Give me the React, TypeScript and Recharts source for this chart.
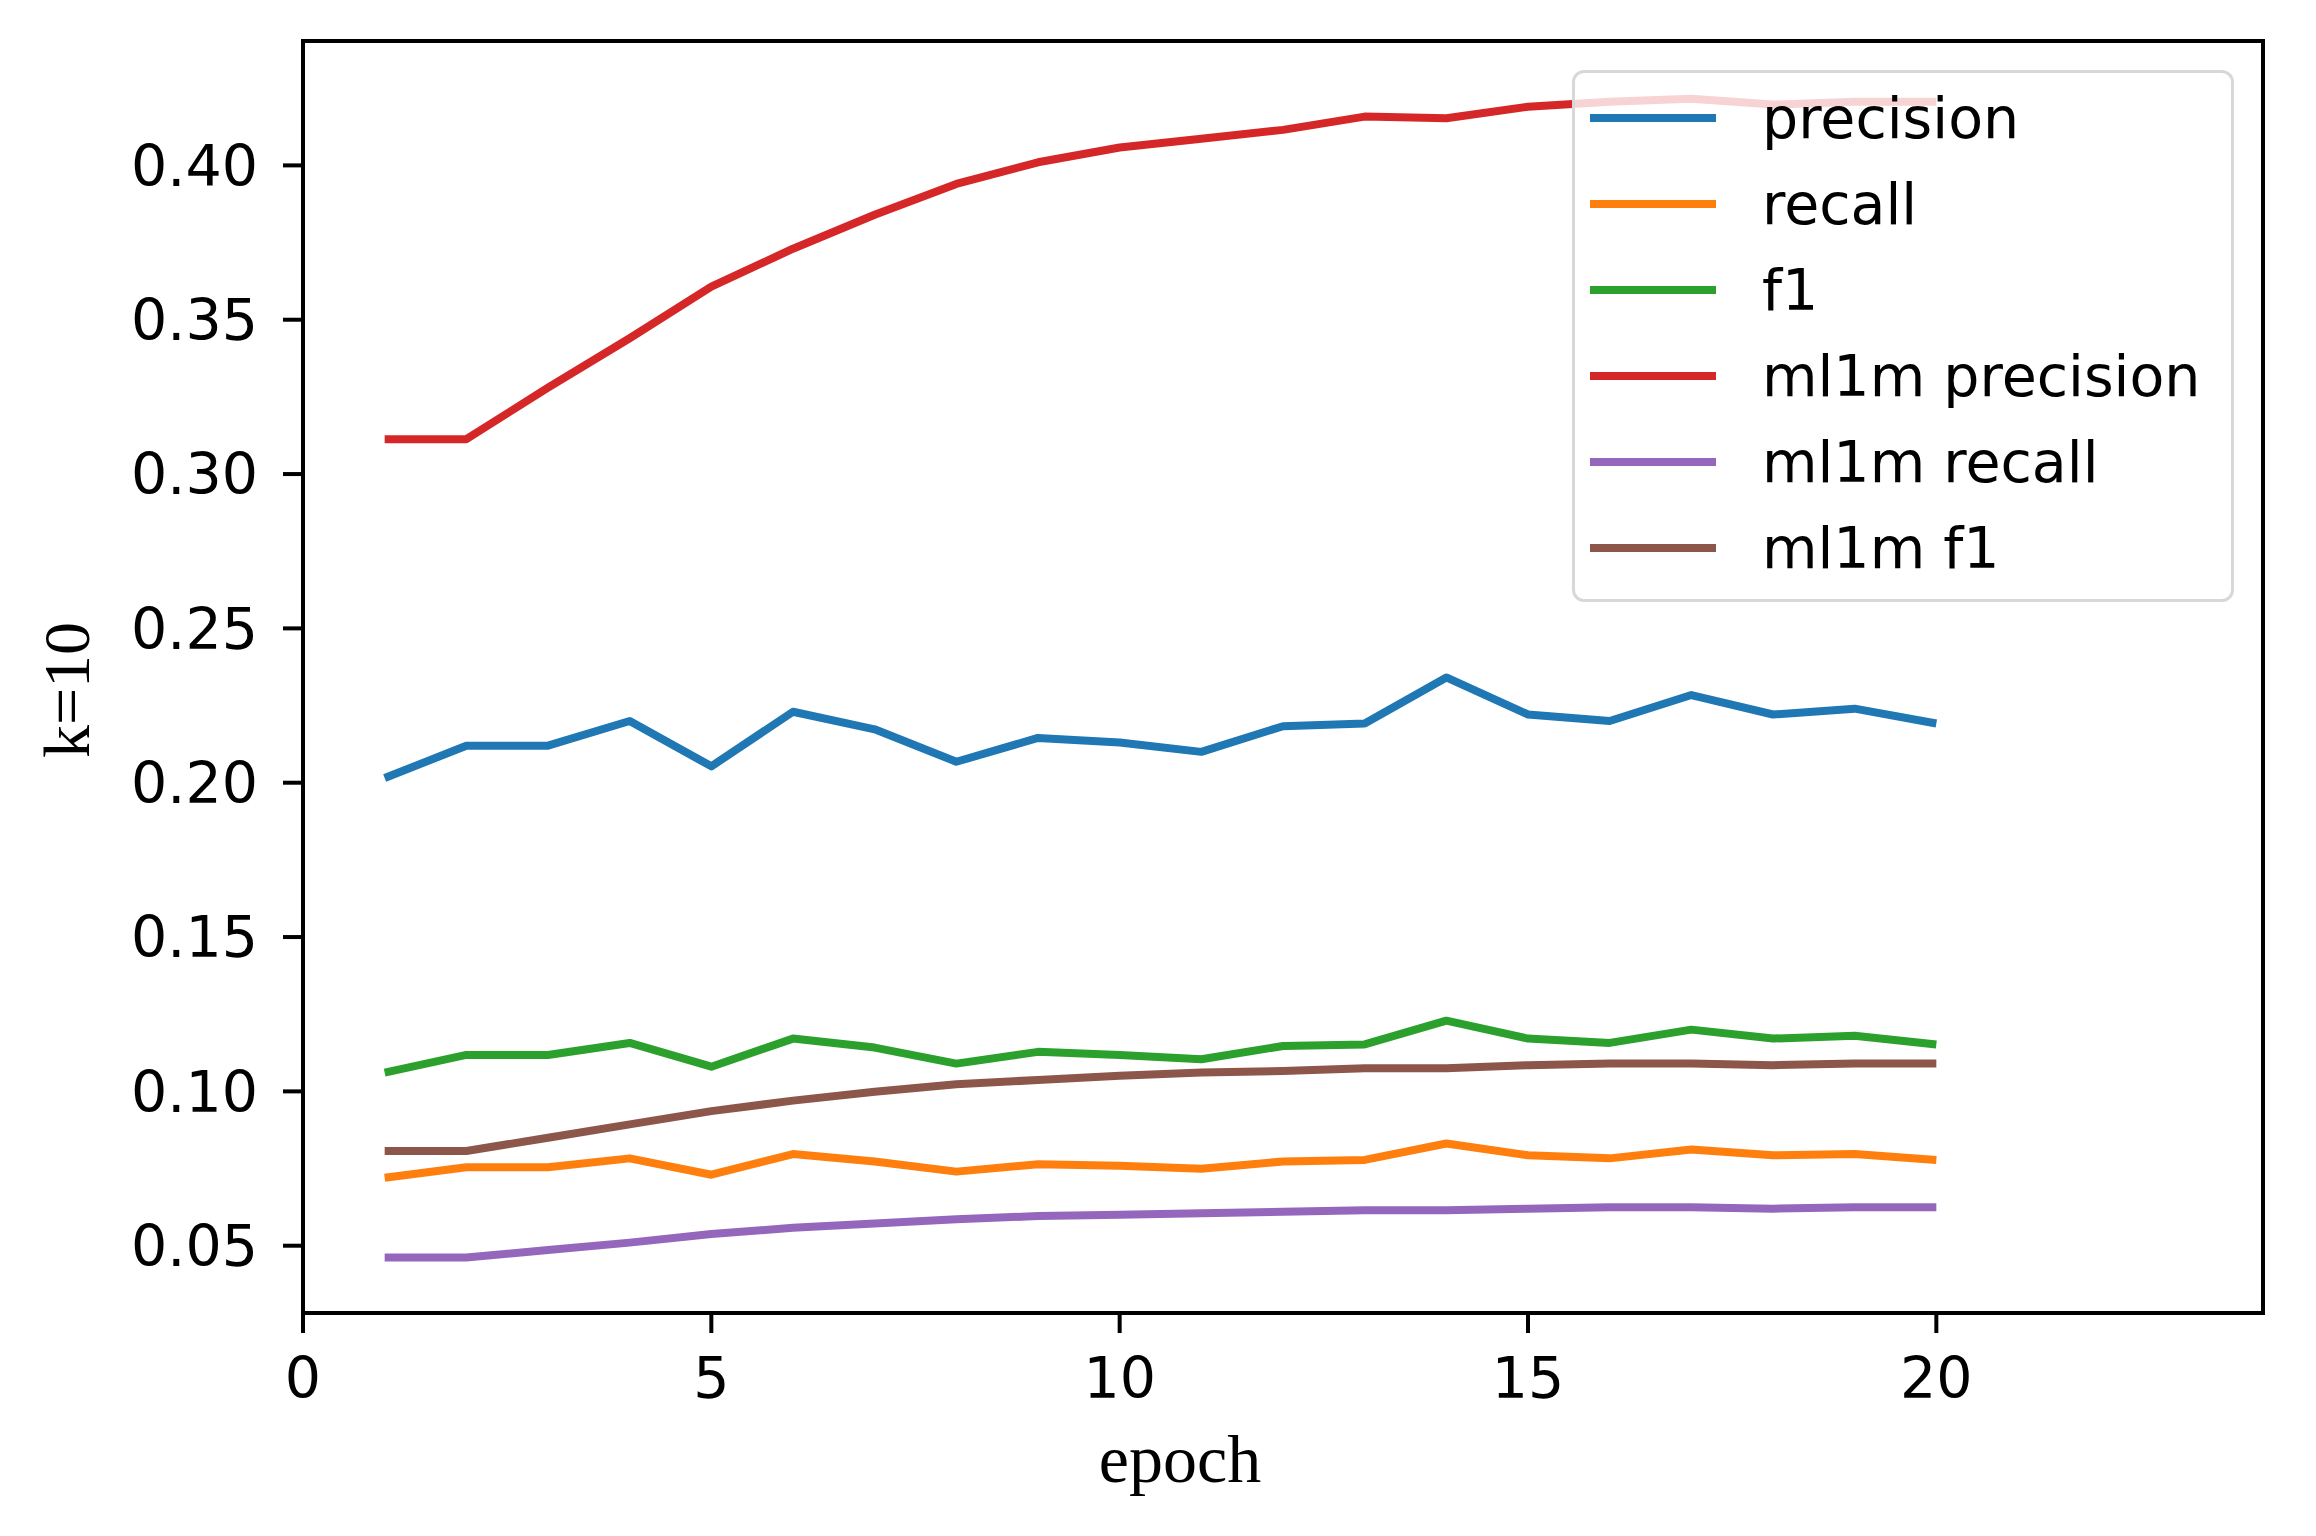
import { LineChart, Line, XAxis, YAxis, Legend, ReferenceArea } from "recharts";

const epochs = [1, 2, 3, 4, 5, 6, 7, 8, 9, 10, 11, 12, 13, 14, 15, 16, 17, 18, 19, 20];

const precision = [0.2015, 0.212, 0.212, 0.22, 0.2053, 0.223, 0.2173, 0.2068, 0.2145, 0.213, 0.21, 0.2183, 0.2192, 0.2341, 0.2221, 0.22, 0.2284, 0.2221, 0.224, 0.2192];
const recall = [0.072, 0.0754, 0.0754, 0.0783, 0.073, 0.0797, 0.0773, 0.074, 0.0764, 0.0759, 0.0749, 0.0773, 0.0778, 0.0831, 0.0793, 0.0783, 0.0812, 0.0793, 0.0797, 0.0778];
const f1 = [0.1061, 0.1118, 0.1118, 0.1157, 0.108, 0.1171, 0.1142, 0.109, 0.1128, 0.1118, 0.1104, 0.1147, 0.1152, 0.1229, 0.1171, 0.1157, 0.12, 0.1171, 0.118, 0.1152];
const ml1mPrecision = [0.3113, 0.3113, 0.328, 0.344, 0.3607, 0.373, 0.384, 0.394, 0.401, 0.4058, 0.4086, 0.4115, 0.4158, 0.4153, 0.419, 0.4206, 0.4216, 0.4197, 0.4206, 0.4206];
const ml1mRecall = [0.0462, 0.0462, 0.0486, 0.051, 0.0538, 0.0558, 0.0572, 0.0586, 0.0596, 0.06, 0.0605, 0.061, 0.0615, 0.0615, 0.062, 0.0625, 0.0625, 0.062, 0.0625, 0.0625];
const ml1mF1 = [0.0807, 0.0807, 0.085, 0.0893, 0.0936, 0.097, 0.0999, 0.1023, 0.1037, 0.1051, 0.1061, 0.1066, 0.1075, 0.1075, 0.1085, 0.109, 0.109, 0.1085, 0.109, 0.109];

const seriesNames = ["precision", "recall", "f1", "ml1m precision", "ml1m recall", "ml1m f1"];
const seriesValues = [precision, recall, f1, ml1mPrecision, ml1mRecall, ml1mF1];
const seriesColors = ["#1f77b4", "#ff7f0e", "#2ca02c", "#d62728", "#9467bd", "#8c564b"];

const xTicks = [0, 5, 10, 15, 20];
const yTicks = [0.05, 0.1, 0.15, 0.2, 0.25, 0.3, 0.35, 0.4];

const data = epochs.map((epoch, i) => {
  const row: Record<string, number> = { epoch };
  seriesNames.forEach((name, s) => {
    row[name] = seriesValues[s][i];
  });
  return row;
});

const W = 2316;
const H = 1536;
const xDomain = [0, 24];
const yDomain = [0.0282, 0.4403];
const tickFont = { fontFamily: "DejaVu Sans", fontSize: 57, fill: "#000" };

// legend drawn in the series order (recharts sorts its payload by name)
function LegendBox() {
  return (
    <div
      style={{
        boxSizing: "border-box",
        width: 662,
        height: 532,
        border: "3px solid #d8d8d8",
        borderRadius: 12,
        background: "rgba(255,255,255,0.8)",
        paddingTop: 2,
        fontFamily: "DejaVu Sans",
        fontSize: 57,
        color: "#000",
      }}
    >
      {seriesNames.map((name, s) => (
        <div key={name} style={{ display: "flex", alignItems: "center", height: 86 }}>
          <span style={{ display: "inline-block", width: 126, height: 8, background: seriesColors[s], marginLeft: 15 }} />
          <span style={{ marginLeft: 46, lineHeight: 1 }}>{name}</span>
        </div>
      ))}
    </div>
  );
}

export default function App() {
  return (
    <div style={{ position: "absolute", left: 0, top: 0, width: W, height: H, background: "#fff" }}>
      <LineChart width={W} height={H} data={data} margin={{ top: 41, right: 53, left: 0, bottom: 0 }}>
        <XAxis
          type="number"
          dataKey="epoch"
          domain={xDomain}
          ticks={xTicks}
          allowDataOverflow
          height={223}
          tick={tickFont}
          tickSize={20}
          tickMargin={25}
          axisLine={{ stroke: "#000", strokeWidth: 4 }}
          tickLine={{ stroke: "#000", strokeWidth: 4 }}
        />
        <YAxis
          type="number"
          domain={yDomain}
          ticks={yTicks}
          allowDataOverflow
          width={303}
          tick={tickFont}
          tickSize={20}
          tickMargin={25}
          tickFormatter={(v: number) => v.toFixed(2)}
          axisLine={{ stroke: "#000", strokeWidth: 4 }}
          tickLine={{ stroke: "#000", strokeWidth: 4 }}
        />
        <ReferenceArea
          x1={xDomain[0]}
          x2={xDomain[1]}
          y1={yDomain[0]}
          y2={yDomain[1]}
          fill="none"
          stroke="#000"
          strokeWidth={4}
        />
        {seriesNames.map((name, s) => (
          <Line
            key={name}
            type="linear"
            dataKey={name}
            name={name}
            stroke={seriesColors[s]}
            strokeWidth={8}
            strokeLinejoin="round"
            dot={false}
            activeDot={false}
            isAnimationActive={false}
          />
        ))}
        <Legend
          layout="vertical"
          align="center"
          verticalAlign="middle"
          content={LegendBox}
          wrapperStyle={{ left: 1572, top: 70, width: 662, height: 532 }}
        />
      </LineChart>
      <svg width={W} height={H} style={{ position: "absolute", left: 0, top: 0, pointerEvents: "none" }}>
        <text x={1180} y={1482} textAnchor="middle" fontFamily="Liberation Serif" fontSize={68} fill="#000">
          epoch
        </text>
        <text
          x={0}
          y={0}
          transform="translate(89,690) rotate(-90)"
          textAnchor="middle"
          fontFamily="Liberation Serif"
          fontSize={66}
          fill="#000"
        >
          k=10
        </text>
      </svg>
    </div>
  );
}
